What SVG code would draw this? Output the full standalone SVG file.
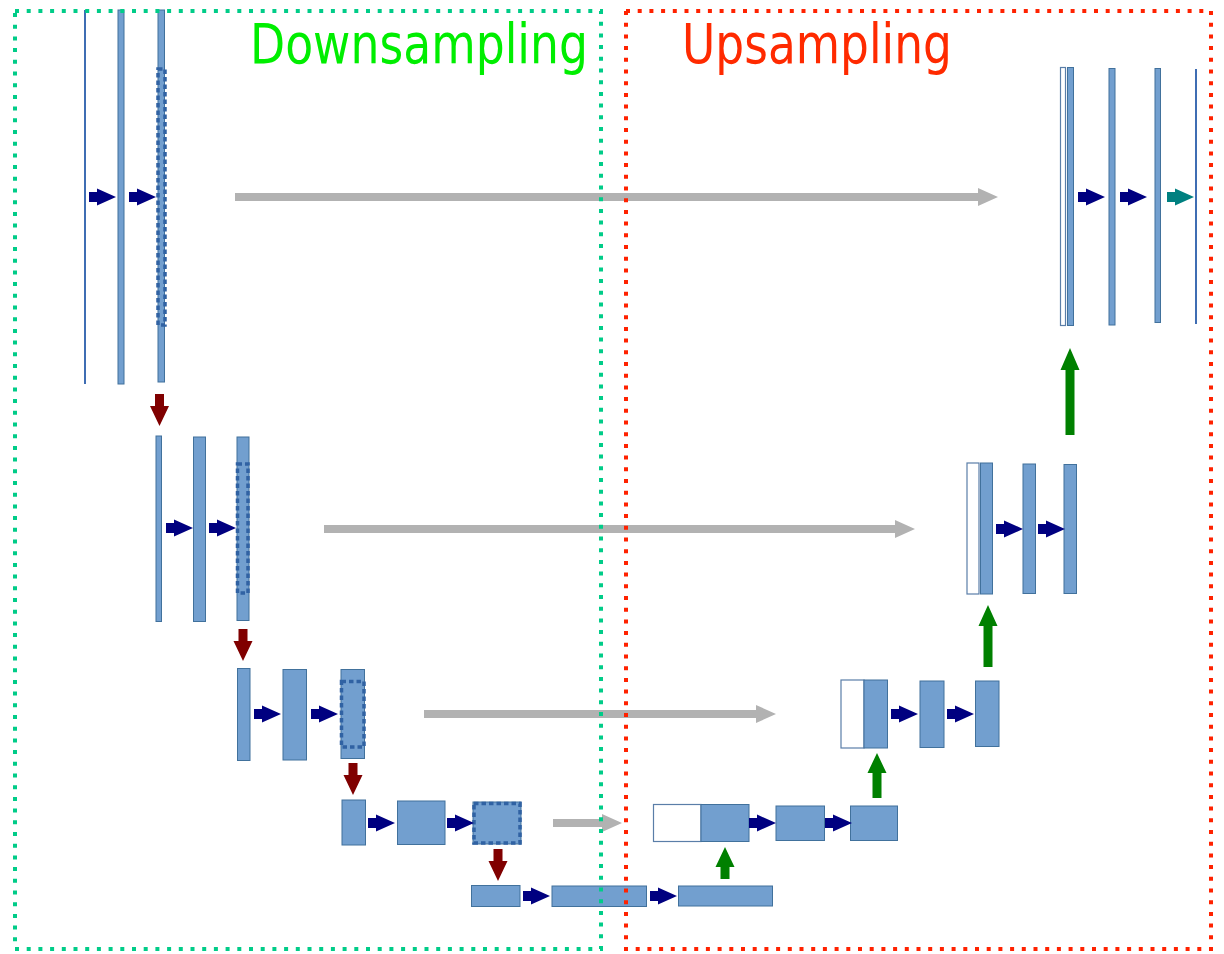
<svg xmlns="http://www.w3.org/2000/svg" xmlns:xlink="http://www.w3.org/1999/xlink" width="1224" height="954" viewBox="0 0 1224 954">
  <style>
    .fm { fill: #729fcf; stroke: #41719c; stroke-width: 1; }
    .cat { fill: #ffffff; stroke: #5a7ea8; stroke-width: 1.2; }
    .line { stroke: #3f6db3; stroke-width: 2; }
    .crop { fill: none; stroke: #3062a3; stroke-width: 3.5; stroke-dasharray: 4.5 3; }
    .conv { fill: #000080; }
    .out { fill: #008080; }
    .pool { fill: #800000; }
    .upc { fill: #008000; }
    .skip { fill: #b2b2b2; }
    .title { font-family: "DejaVu Sans Condensed", "DejaVu Sans", sans-serif; font-size: 55px; }
  </style>
  <defs>
    <path id="conv" d="M0,-5 H8 V-8.5 L27,0 L8,8.5 V5 H0 Z"/>
    <path id="pool" d="M-4.5,0 H4.5 V12 H9.5 L0,32 L-9.5,12 H-4.5 Z"/>
  </defs>
  <rect width="1224" height="954" fill="#ffffff"/>

  <!-- contracting path -->
  <g id="down-1">
    <line class="line" x1="85" y1="10" x2="85" y2="384"/>
    <rect class="fm" x="118" y="10" width="6" height="374"/>
    <rect class="fm" x="158" y="10" width="6.5" height="372"/>
    <rect class="crop" x="158" y="69" width="7" height="256"/>
  </g>
  <g id="down-2">
    <rect class="fm" x="156" y="436" width="5.5" height="185.5"/>
    <rect class="fm" x="193.5" y="437" width="12" height="184.5"/>
    <rect class="fm" x="237" y="437" width="12" height="183.5"/>
    <rect class="crop" x="237.5" y="464" width="10.5" height="129"/>
  </g>
  <g id="down-3">
    <rect class="fm" x="237.5" y="668.5" width="12.5" height="92"/>
    <rect class="fm" x="283" y="669.5" width="23.5" height="90.5"/>
    <rect class="fm" x="341" y="669.5" width="23.5" height="89"/>
    <rect class="crop" x="341.5" y="681.5" width="22.5" height="65.5"/>
  </g>
  <g id="down-4">
    <rect class="fm" x="342" y="800" width="23.5" height="45"/>
    <rect class="fm" x="397.5" y="801" width="47.5" height="43.5"/>
    <rect class="fm" x="473" y="802" width="48" height="42"/>
    <rect class="crop" x="474" y="803.5" width="46" height="39.5"/>
  </g>
  <g id="bottleneck">
    <rect class="fm" x="471.5" y="885.5" width="48.5" height="21"/>
    <rect class="fm" x="552" y="886" width="94.5" height="20.5"/>
    <rect class="fm" x="678.5" y="886" width="94" height="20"/>
  </g>

  <!-- expanding path -->
  <g id="up-4">
    <rect class="cat" x="653.5" y="804.5" width="47.5" height="37"/>
    <rect class="fm" x="701" y="804.5" width="48" height="37"/>
    <rect class="fm" x="776" y="806" width="48.5" height="34.5"/>
    <rect class="fm" x="850.5" y="806" width="47" height="34.5"/>
  </g>
  <g id="up-3">
    <rect class="cat" x="841" y="680" width="23" height="68"/>
    <rect class="fm" x="864" y="680" width="23.5" height="68"/>
    <rect class="fm" x="920" y="681" width="24" height="66.5"/>
    <rect class="fm" x="975.5" y="681" width="23.5" height="65.5"/>
  </g>
  <g id="up-2">
    <rect class="cat" x="967" y="463" width="12" height="131"/>
    <rect class="fm" x="980.5" y="463" width="12" height="131"/>
    <rect class="fm" x="1023" y="464" width="12.5" height="129.5"/>
    <rect class="fm" x="1064" y="464.5" width="12.5" height="129"/>
  </g>
  <g id="up-1">
    <rect class="cat" x="1060.5" y="67.5" width="5" height="258"/>
    <rect class="fm" x="1067.5" y="67.5" width="6" height="258"/>
    <rect class="fm" x="1109" y="68.5" width="6" height="256.5"/>
    <rect class="fm" x="1155" y="68.5" width="5.5" height="254"/>
    <line class="line" x1="1196" y1="69" x2="1196" y2="324"/>
  </g>

  <!-- connectors -->
  <g id="connectors">
    <!-- skip connections -->
    <path class="skip" d="M235,193 H978 V188 L998,197 L978,206 V201 H235 Z"/>
    <path class="skip" d="M324,525 H895 V520 L915,529 L895,538 V533 H324 Z"/>
    <path class="skip" d="M424,710 H756 V705 L776,714 L756,723 V718 H424 Z"/>
    <path class="skip" d="M553,819 H602 V814 L622,823 L602,832 V827 H553 Z"/>

    <!-- convolutions -->
    <use href="#conv" xlink:href="#conv" class="conv" x="89" y="197"/>
    <use href="#conv" xlink:href="#conv" class="conv" x="129" y="197"/>
    <use href="#conv" xlink:href="#conv" class="conv" x="166" y="528"/>
    <use href="#conv" xlink:href="#conv" class="conv" x="209" y="528"/>
    <use href="#conv" xlink:href="#conv" class="conv" x="254" y="714"/>
    <use href="#conv" xlink:href="#conv" class="conv" x="311" y="714"/>
    <use href="#conv" xlink:href="#conv" class="conv" x="368" y="823"/>
    <use href="#conv" xlink:href="#conv" class="conv" x="447" y="823"/>
    <use href="#conv" xlink:href="#conv" class="conv" x="523" y="896"/>
    <use href="#conv" xlink:href="#conv" class="conv" x="650" y="896"/>
    <use href="#conv" xlink:href="#conv" class="conv" x="749" y="823"/>
    <use href="#conv" xlink:href="#conv" class="conv" x="825" y="823"/>
    <use href="#conv" xlink:href="#conv" class="conv" x="891" y="714"/>
    <use href="#conv" xlink:href="#conv" class="conv" x="947" y="714"/>
    <use href="#conv" xlink:href="#conv" class="conv" x="996" y="529"/>
    <use href="#conv" xlink:href="#conv" class="conv" x="1038" y="529"/>
    <use href="#conv" xlink:href="#conv" class="conv" x="1078" y="197"/>
    <use href="#conv" xlink:href="#conv" class="conv" x="1120" y="197"/>
    <use href="#conv" xlink:href="#conv" class="out" x="1167" y="197"/>

    <!-- max pooling -->
    <use href="#pool" xlink:href="#pool" class="pool" x="159.5" y="394"/>
    <use href="#pool" xlink:href="#pool" class="pool" x="243" y="629"/>
    <use href="#pool" xlink:href="#pool" class="pool" x="353" y="763"/>
    <use href="#pool" xlink:href="#pool" class="pool" x="498" y="849"/>

    <!-- up-convolutions -->
    <path class="upc" d="M1065.5,435 V370 H1060.5 L1070,348 L1079.5,370 H1074.5 V435 Z"/>
    <path class="upc" d="M983.5,667 V626 H978.5 L988,605 L997.5,626 H992.5 V667 Z"/>
    <path class="upc" d="M872.5,798 V773 H867.5 L877,753 L886.5,773 H881.5 V798 Z"/>
    <path class="upc" d="M720.5,879 V867 H715.5 L725,847 L734.5,867 H729.5 V879 Z"/>
  </g>

  <!-- section frames and titles -->
  <g id="downsampling-frame">
    <rect x="15" y="11" width="586" height="938" fill="none" stroke="#00cc88" stroke-width="4" stroke-dasharray="4 7.7"/>
    <text class="title" x="250" y="63" fill="#00ee00" textLength="338" lengthAdjust="spacingAndGlyphs">Downsampling</text>
  </g>
  <g id="upsampling-frame">
    <rect x="626" y="11" width="585" height="938" fill="none" stroke="#ff2200" stroke-width="4" stroke-dasharray="4 7.7"/>
    <text class="title" x="682" y="63" fill="#ff2a00" textLength="270" lengthAdjust="spacingAndGlyphs">Upsampling</text>
  </g>
</svg>
